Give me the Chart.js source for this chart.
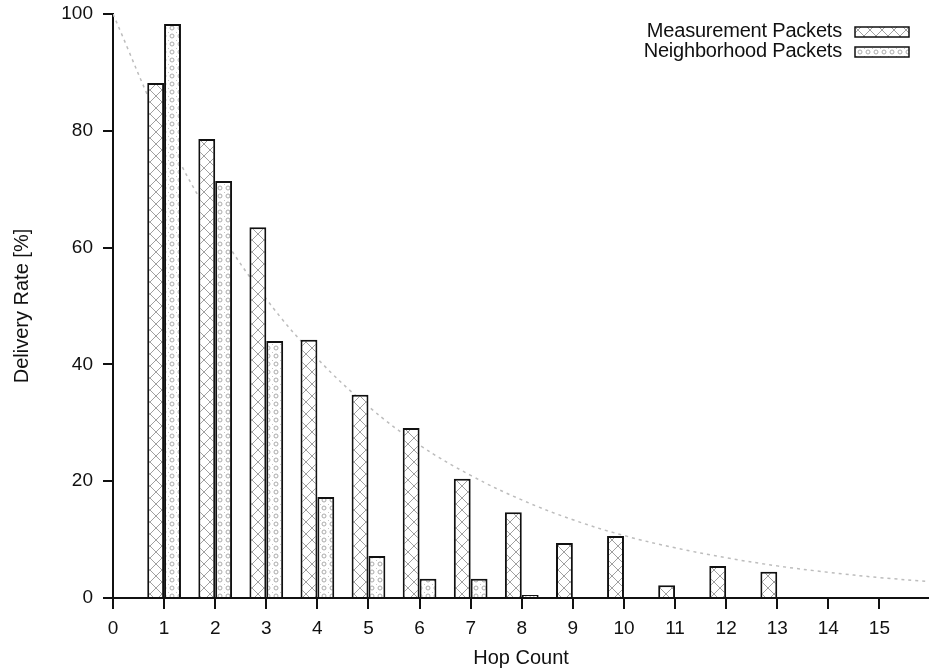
<!DOCTYPE html>
<html>
<head>
<meta charset="utf-8">
<script src="https://cdn.jsdelivr.net/npm/chart.js@4.4.0/dist/chart.umd.min.js"></script>
<style>
  html, body { margin: 0; padding: 0; background: #fff; }
  #chart { display: block; }
</style>
</head>
<body>
<canvas id="chart" width="929" height="670"></canvas>
<script>
const measurementHops = [1, 2, 3, 4, 5, 6, 7, 8, 9, 10, 11, 12, 13];
const measurementRates = [88.2, 78.6, 63.5, 44.2, 34.8, 29.1, 20.4, 14.7, 9.4, 10.6, 2.2, 5.5, 4.5];

const neighborhoodHops = [1, 2, 3, 4, 5, 6, 7, 8];
const neighborhoodRates = [98.3, 71.4, 44.0, 17.3, 7.2, 3.3, 3.3, 0.5];

const curveHops = [0, 1, 2, 3, 4, 5, 6, 7, 8, 9, 10, 11, 12, 13, 14, 15, 16];
const curveRates = [100, 80, 64, 51.2, 41, 32.8, 26.2, 21, 16.8, 13.4, 10.7, 8.6, 6.9, 5.5, 4.4, 3.5, 2.8];

const xTickValues = [0, 1, 2, 3, 4, 5, 6, 7, 8, 9, 10, 11, 12, 13, 14, 15];
const yTickValues = [0, 20, 40, 60, 80, 100];

const FONT = "'Liberation Sans', Arial, sans-serif";
const TEXT = "#111";

function makeCrossPattern() {
  const c = document.createElement("canvas");
  c.width = 12;
  c.height = 12;
  const g = c.getContext("2d");
  g.fillStyle = "#fff";
  g.fillRect(0, 0, 12, 12);
  g.strokeStyle = "#a0a0a0";
  g.lineWidth = 1;
  g.beginPath();
  g.moveTo(0, 0); g.lineTo(12, 12);
  g.moveTo(12, 0); g.lineTo(0, 12);
  g.stroke();
  return g.createPattern(c, "repeat");
}

function makeDotPattern() {
  const c = document.createElement("canvas");
  c.width = 8;
  c.height = 8;
  const g = c.getContext("2d");
  g.fillStyle = "#fff";
  g.fillRect(0, 0, 8, 8);
  g.strokeStyle = "#ababab";
  g.lineWidth = 1;
  g.beginPath();
  g.arc(4, 4, 2, 0, Math.PI * 2);
  g.stroke();
  g.fillStyle = "#c4c4c4";
  g.fillRect(0, 0, 1, 1);
  return g.createPattern(c, "repeat");
}

const crossPattern = makeCrossPattern();
const dotPattern = makeDotPattern();

const legendItems = [
  { label: "Measurement Packets", fill: crossPattern },
  { label: "Neighborhood Packets", fill: dotPattern },
];

const legendPlugin = {
  id: "gnuplotLegend",
  afterDraw(chart) {
    const ctx = chart.ctx;
    ctx.save();
    ctx.font = "20px " + FONT;
    ctx.letterSpacing = "-0.2px";
    ctx.textAlign = "right";
    ctx.textBaseline = "alphabetic";
    legendItems.forEach((item, i) => {
      const base = 37 + i * 20;
      ctx.fillStyle = TEXT;
      ctx.fillText(item.label, 842, base);
      ctx.fillStyle = item.fill;
      ctx.fillRect(855, base - 10, 54, 10);
      ctx.strokeStyle = "#111";
      ctx.lineWidth = 1.5;
      ctx.strokeRect(855, base - 10, 54, 10);
    });
    ctx.restore();
  },
};

new Chart(document.getElementById("chart"), {
  type: "bar",
  plugins: [legendPlugin],
  data: {
    datasets: [
      {
        type: "line",
        label: "fit",
        data: curveHops.map((h, i) => ({ x: h, y: curveRates[i] })),
        borderColor: "#bdbdbd",
        borderWidth: 1.5,
        borderDash: [3, 4],
        pointRadius: 0,
        tension: 0.4,
        order: 3,
      },
      {
        label: "Measurement Packets",
        data: measurementHops.map((h, i) => ({ x: h, y: measurementRates[i] })),
        backgroundColor: crossPattern,
        borderColor: "#111",
        borderWidth: 2,
        categoryPercentage: 0.66,
        barPercentage: 1.0,
        order: 1,
      },
      {
        label: "Neighborhood Packets",
        data: neighborhoodHops.map((h, i) => ({ x: h, y: neighborhoodRates[i] })),
        backgroundColor: dotPattern,
        borderColor: "#111",
        borderWidth: 2,
        categoryPercentage: 0.66,
        barPercentage: 1.0,
        order: 1,
      },
    ],
  },
  options: {
    responsive: false,
    animation: false,
    devicePixelRatio: 1,
    layout: { padding: { top: 14, right: 0, left: 0, bottom: 0 } },
    plugins: {
      legend: { display: false },
      tooltip: { enabled: false },
    },
    scales: {
      x: {
        type: "linear",
        min: 0,
        max: 15.97,
        offset: false,
        afterBuildTicks: (scale) => {
          scale.ticks = xTickValues.map((v) => ({ value: v }));
        },
        afterFit: (scale) => {
          scale.height = 72;
          scale.paddingLeft = 0;
          scale.paddingRight = 0;
        },
        grid: {
          offset: false,
          drawOnChartArea: false,
          drawTicks: true,
          tickLength: 11,
          color: "#111",
          lineWidth: 2,
        },
        border: { display: true, color: "#111", width: 2 },
        ticks: {
          color: TEXT,
          font: { family: FONT, size: 19 },
          padding: 8,
          maxRotation: 0,
          autoSkip: false,
        },
        title: {
          display: true,
          text: "Hop Count",
          color: TEXT,
          font: { family: FONT, size: 20 },
          padding: { top: 0, bottom: 0 },
        },
      },
      y: {
        min: 0,
        max: 100,
        afterBuildTicks: (scale) => {
          scale.ticks = yTickValues.map((v) => ({ value: v }));
        },
        afterFit: (scale) => {
          scale.width = 113;
          scale.paddingTop = 0;
          scale.paddingBottom = 0;
        },
        grid: {
          drawOnChartArea: false,
          drawTicks: true,
          tickLength: 10,
          color: "#111",
          lineWidth: 2,
        },
        border: { display: true, color: "#111", width: 2 },
        ticks: {
          color: TEXT,
          font: { family: FONT, size: 19 },
          padding: 10,
        },
        title: {
          display: true,
          text: "Delivery Rate [%]",
          color: TEXT,
          font: { family: FONT, size: 20 },
          padding: { top: 10, bottom: 0 },
        },
      },
    },
  },
});
</script>
</body>
</html>
